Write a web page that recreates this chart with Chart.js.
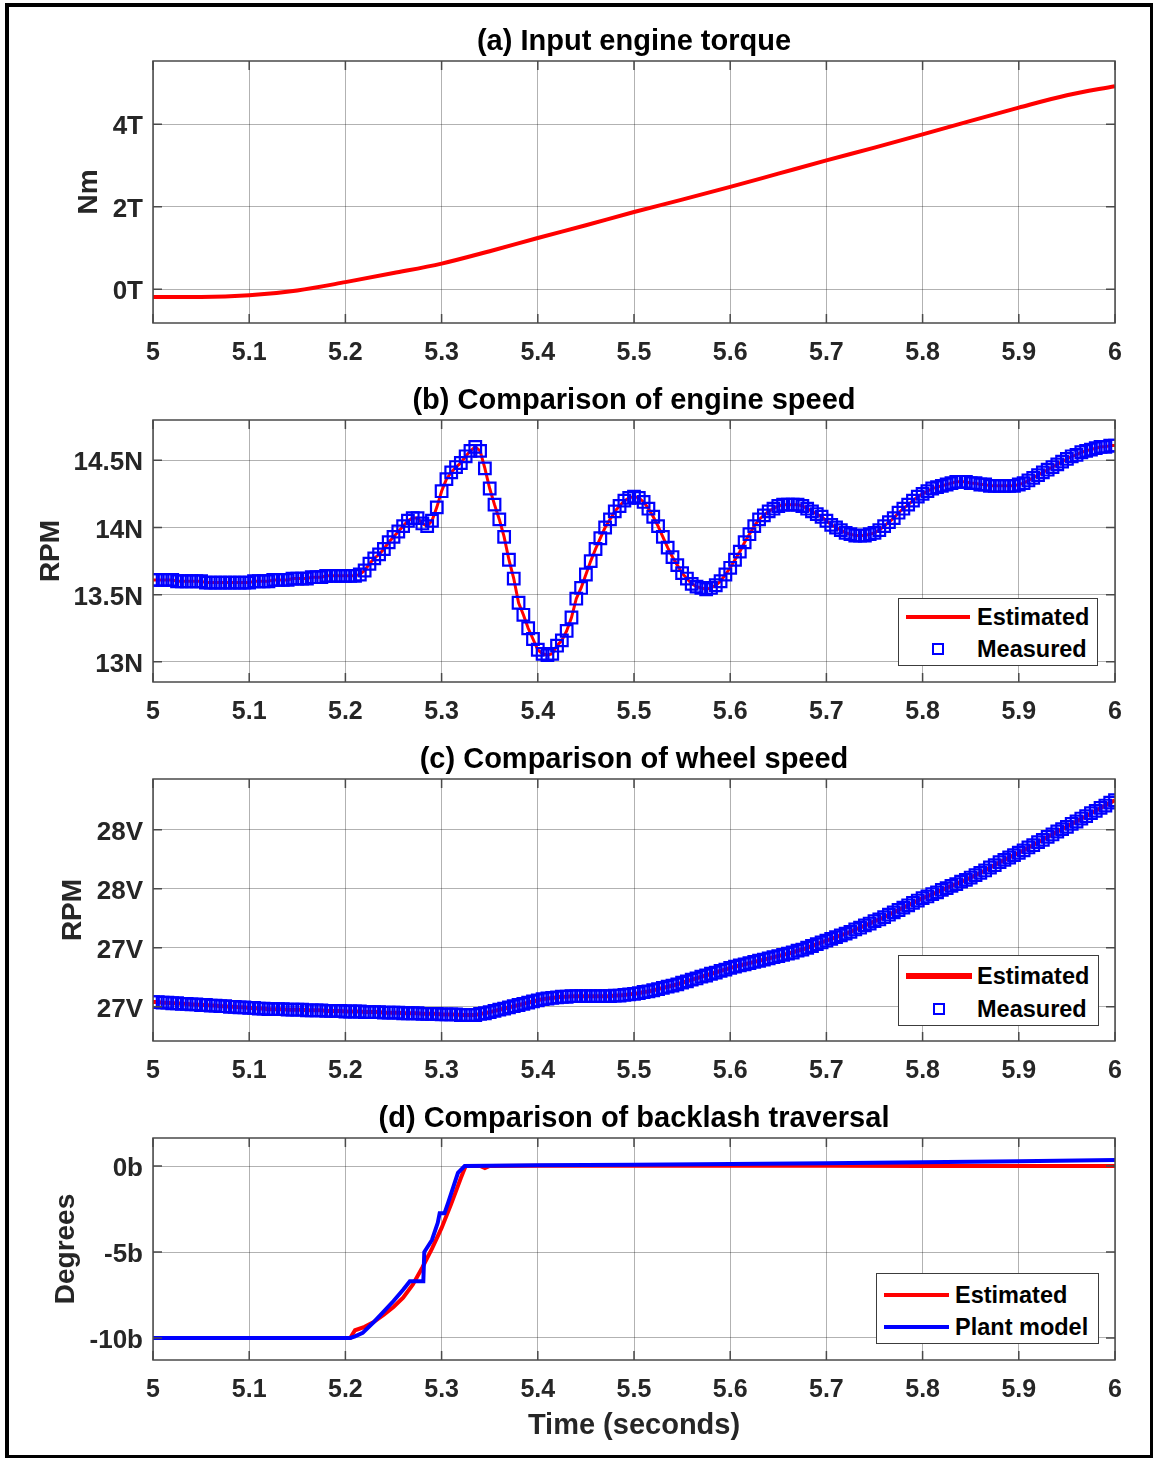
<!DOCTYPE html>
<html>
<head>
<meta charset="utf-8">
<script src="https://cdn.jsdelivr.net/npm/chart.js@4.4.0/dist/chart.umd.min.js"></script>
<style>
body { margin: 0; background: #fff; }
#fig { position: relative; width: 1154px; height: 1460px; overflow: hidden; }
#frame { position: absolute; left: 5px; top: 3px; width: 1141px; height: 1448px;
         border-style: solid; border-color: #000; border-width: 4px 3px 3px 4px; }
canvas { position: absolute; left: 0; }
.legend { position: absolute; background: #fff; border: 1px solid #3c3c3c; box-sizing: border-box;
          font: bold 23.5px "Liberation Sans", Arial, sans-serif; color: #000; }
.legend .txt { position: absolute; white-space: nowrap; line-height: 28px; height: 28px; }
.legend .mark { position: absolute; box-sizing: border-box; }
</style>
</head>
<body>
<div id="fig">
  <div id="frame"></div>
  <canvas id="chartA" width="1154" height="358" style="top:10px"></canvas>
  <canvas id="chartB" width="1154" height="358" style="top:369px"></canvas>
  <canvas id="chartC" width="1154" height="358" style="top:728px"></canvas>
  <canvas id="chartD" width="1154" height="358" style="top:1087px"></canvas>
</div>
<script>
const FONT = '"Liberation Sans", Arial, sans-serif';
const RED = '#ff0000';
const BLUE = '#0000ff';

// shared x axis
const xTicks = [5, 5.1, 5.2, 5.3, 5.4, 5.5, 5.6, 5.7, 5.8, 5.9, 6];
const xTickLabels = ['5', '5.1', '5.2', '5.3', '5.4', '5.5', '5.6', '5.7', '5.8', '5.9', '6'];

// (a) input engine torque
const torqueTime = [5, 5.05, 5.1, 5.15, 5.2, 5.25, 5.3, 5.35, 5.4, 5.45, 5.5,
                    5.55, 5.6, 5.65, 5.7, 5.75, 5.8, 5.85, 5.9, 5.95, 6];
const torque = [-0.19, -0.19, -0.15, -0.03, 0.17, 0.39, 0.62, 0.92, 1.24, 1.55, 1.87,
                2.17, 2.48, 2.8, 3.12, 3.43, 3.75, 4.08, 4.4, 4.7, 4.92];
const torqueTicks = [0, 2, 4];
const torqueTickLabels = ['0T', '2T', '4T'];

// sample times for (b) and (c)
const sampleTime = [
  5.000, 5.005, 5.010, 5.015, 5.020, 5.025, 5.030, 5.035, 5.040, 5.045,
  5.050, 5.055, 5.060, 5.065, 5.070, 5.075, 5.080, 5.085, 5.090, 5.095,
  5.100, 5.105, 5.110, 5.115, 5.120, 5.125, 5.130, 5.135, 5.140, 5.145,
  5.150, 5.155, 5.160, 5.165, 5.170, 5.175, 5.180, 5.185, 5.190, 5.195,
  5.200, 5.205, 5.210, 5.215, 5.220, 5.225, 5.230, 5.235, 5.240, 5.245,
  5.250, 5.255, 5.260, 5.265, 5.270, 5.275, 5.280, 5.285, 5.290, 5.295,
  5.300, 5.305, 5.310, 5.315, 5.320, 5.325, 5.330, 5.335, 5.340, 5.345,
  5.350, 5.355, 5.360, 5.365, 5.370, 5.375, 5.380, 5.385, 5.390, 5.395,
  5.400, 5.405, 5.410, 5.415, 5.420, 5.425, 5.430, 5.435, 5.440, 5.445,
  5.450, 5.455, 5.460, 5.465, 5.470, 5.475, 5.480, 5.485, 5.490, 5.495,
  5.500, 5.505, 5.510, 5.515, 5.520, 5.525, 5.530, 5.535, 5.540, 5.545,
  5.550, 5.555, 5.560, 5.565, 5.570, 5.575, 5.580, 5.585, 5.590, 5.595,
  5.600, 5.605, 5.610, 5.615, 5.620, 5.625, 5.630, 5.635, 5.640, 5.645,
  5.650, 5.655, 5.660, 5.665, 5.670, 5.675, 5.680, 5.685, 5.690, 5.695,
  5.700, 5.705, 5.710, 5.715, 5.720, 5.725, 5.730, 5.735, 5.740, 5.745,
  5.750, 5.755, 5.760, 5.765, 5.770, 5.775, 5.780, 5.785, 5.790, 5.795,
  5.800, 5.805, 5.810, 5.815, 5.820, 5.825, 5.830, 5.835, 5.840, 5.845,
  5.850, 5.855, 5.860, 5.865, 5.870, 5.875, 5.880, 5.885, 5.890, 5.895,
  5.900, 5.905, 5.910, 5.915, 5.920, 5.925, 5.930, 5.935, 5.940, 5.945,
  5.950, 5.955, 5.960, 5.965, 5.970, 5.975, 5.980, 5.985, 5.990, 5.995,
  6.000];

// (b) engine speed
const engineSpeed = [
  13.61, 13.61, 13.61, 13.61, 13.61, 13.60, 13.60, 13.60, 13.60, 13.60,
  13.60, 13.59, 13.59, 13.59, 13.59, 13.59, 13.59, 13.59, 13.59, 13.59,
  13.59, 13.60, 13.60, 13.60, 13.60, 13.61, 13.61, 13.61, 13.61, 13.62,
  13.62, 13.62, 13.62, 13.63, 13.63, 13.63, 13.64, 13.64, 13.64, 13.64,
  13.64, 13.64, 13.64, 13.65, 13.68, 13.73, 13.77, 13.80, 13.84, 13.89,
  13.93, 13.97, 14.01, 14.05, 14.07, 14.07, 14.03, 14.01, 14.05, 14.15,
  14.27, 14.36, 14.41, 14.45, 14.48, 14.53, 14.57, 14.60, 14.57, 14.44,
  14.29, 14.17, 14.06, 13.93, 13.76, 13.62, 13.44, 13.35, 13.25, 13.17,
  13.09, 13.06, 13.05, 13.06, 13.12, 13.16, 13.23, 13.33, 13.47, 13.55,
  13.65, 13.75, 13.84, 13.92, 14.00, 14.06, 14.12, 14.16, 14.20, 14.22,
  14.23, 14.22, 14.19, 14.14, 14.08, 14.01, 13.93, 13.85, 13.78, 13.72,
  13.66, 13.62, 13.58, 13.56, 13.55, 13.54, 13.55, 13.57, 13.60, 13.65,
  13.70, 13.76, 13.82, 13.89, 13.95, 14.01, 14.06, 14.09, 14.12, 14.14,
  14.16, 14.17, 14.17, 14.17, 14.17, 14.16, 14.14, 14.12, 14.10, 14.08,
  14.05, 14.02, 14.00, 13.98, 13.96, 13.95, 13.94, 13.94, 13.94, 13.95,
  13.96, 13.98, 14.01, 14.04, 14.07, 14.11, 14.14, 14.17, 14.20, 14.23,
  14.25, 14.27, 14.29, 14.30, 14.31, 14.32, 14.33, 14.34, 14.34, 14.34,
  14.33, 14.33, 14.32, 14.32, 14.31, 14.31, 14.31, 14.31, 14.31, 14.31,
  14.32, 14.33, 14.35, 14.37, 14.39, 14.41, 14.43, 14.45, 14.47, 14.49,
  14.51, 14.53, 14.54, 14.56, 14.57, 14.58, 14.59, 14.60, 14.60, 14.61,
  14.61];
const engineTicks = [13, 13.5, 14, 14.5];
const engineTickLabels = ['13N', '13.5N', '14N', '14.5N'];

// (c) wheel speed
const wheelSpeed = [
  0.08, 0.08, 0.07, 0.07, 0.06, 0.06, 0.05, 0.05, 0.04, 0.04,
  0.03, 0.03, 0.02, 0.02, 0.01, 0.01, 0.00, 0.00, -0.01, -0.01,
  -0.02, -0.02, -0.03, -0.03, -0.04, -0.04, -0.04, -0.04, -0.05, -0.05,
  -0.05, -0.05, -0.06, -0.06, -0.06, -0.06, -0.07, -0.07, -0.07, -0.07,
  -0.08, -0.08, -0.08, -0.08, -0.09, -0.09, -0.09, -0.09, -0.10, -0.10,
  -0.10, -0.10, -0.11, -0.11, -0.11, -0.11, -0.12, -0.12, -0.12, -0.12,
  -0.13, -0.13, -0.13, -0.13, -0.14, -0.14, -0.14, -0.14, -0.12, -0.11,
  -0.09, -0.07, -0.05, -0.03, -0.01, 0.01, 0.03, 0.05, 0.07, 0.09,
  0.11, 0.13, 0.14, 0.15, 0.16, 0.17, 0.17, 0.18, 0.18, 0.18,
  0.18, 0.18, 0.18, 0.18, 0.18, 0.18, 0.19, 0.19, 0.20, 0.21,
  0.22, 0.23, 0.25, 0.26, 0.28, 0.30, 0.32, 0.34, 0.36, 0.38,
  0.41, 0.43, 0.46, 0.48, 0.51, 0.53, 0.56, 0.58, 0.61, 0.63,
  0.66, 0.68, 0.70, 0.72, 0.74, 0.76, 0.78, 0.80, 0.82, 0.84,
  0.86, 0.88, 0.90, 0.92, 0.95, 0.97, 1.00, 1.03, 1.06, 1.09,
  1.12, 1.15, 1.18, 1.21, 1.24, 1.27, 1.31, 1.34, 1.38, 1.41,
  1.45, 1.48, 1.52, 1.56, 1.60, 1.64, 1.68, 1.72, 1.76, 1.80,
  1.84, 1.87, 1.91, 1.94, 1.98, 2.01, 2.05, 2.08, 2.12, 2.15,
  2.19, 2.23, 2.27, 2.31, 2.36, 2.40, 2.45, 2.49, 2.53, 2.57,
  2.61, 2.65, 2.70, 2.74, 2.79, 2.83, 2.88, 2.92, 2.97, 3.01,
  3.05, 3.10, 3.14, 3.19, 3.23, 3.28, 3.32, 3.37, 3.41, 3.46,
  3.50];
const wheelTicks = [0, 1, 2, 3];
const wheelTickLabels = ['27V', '27V', '28V', '28V'];

// (d) backlash traversal
const estTime = [5, 5.1, 5.2, 5.205, 5.21, 5.22, 5.23, 5.24, 5.25, 5.26, 5.27, 5.28,
                 5.29, 5.3, 5.31, 5.32, 5.325, 5.34, 5.345, 5.35, 5.4, 5.5, 5.6, 5.7, 5.8, 5.9, 6];
const estBacklash = [-10, -10, -10, -10, -9.55, -9.35, -9.05, -8.65, -8.2, -7.65, -6.9, -5.9,
                     -4.8, -3.6, -2.2, -0.7, 0, 0, -0.12, 0, 0.02, 0.02, 0.01, 0.01, 0, 0, 0];
const plantTime = [5, 5.1, 5.2, 5.205, 5.21, 5.218, 5.229, 5.24, 5.25, 5.26, 5.267, 5.281, 5.282,
                   5.29, 5.296, 5.298, 5.303, 5.307, 5.317, 5.324, 5.4, 5.5, 5.6, 5.7, 5.8, 5.9, 6];
const plantBacklash = [-10, -10, -10, -10, -9.9, -9.7, -9.1, -8.45, -7.85, -7.2, -6.7, -6.7, -5.0,
                       -4.3, -3.3, -2.75, -2.75, -2.1, -0.4, 0, 0.05, 0.08, 0.12, 0.16, 0.22, 0.28, 0.35];
const backlashTicks = [-10, -5, 0];
const backlashTickLabels = ['-10b', '-5b', '0b'];

function pairs(xs, ys) {
  return ys.map((y, i) => ({ x: xs[i], y: y }));
}

// plot box and inward tick marks
const boxPlugin = {
  id: 'box',
  afterDatasetsDraw(chart) {
    const { ctx, chartArea: a, scales } = chart;
    ctx.save();
    ctx.strokeStyle = '#4a4a4a';
    ctx.lineWidth = 1.5;
    ctx.beginPath();
    scales.x.ticks.forEach(t => {
      const px = scales.x.getPixelForValue(t.value);
      ctx.moveTo(px, a.bottom); ctx.lineTo(px, a.bottom - 9);
      ctx.moveTo(px, a.top); ctx.lineTo(px, a.top + 9);
    });
    scales.y.ticks.forEach(t => {
      const py = scales.y.getPixelForValue(t.value);
      ctx.moveTo(a.left, py); ctx.lineTo(a.left + 9, py);
      ctx.moveTo(a.right, py); ctx.lineTo(a.right - 9, py);
    });
    ctx.stroke();
    ctx.strokeRect(a.left, a.top, a.right - a.left, a.bottom - a.top);
    ctx.restore();
  }
};

function makeOptions(p) {
  return {
    responsive: false,
    animation: false,
    events: [],
    layout: { padding: { left: p.padLeft, right: 39, top: 0, bottom: 0 } },
    plugins: {
      legend: { display: false },
      tooltip: { enabled: false },
      title: {
        display: true, text: p.title, color: '#000', fullSize: false,
        font: { family: FONT, size: 29, weight: 'bold', lineHeight: 1 },
        padding: { top: 17.5, bottom: 4.5 }
      }
    },
    scales: {
      x: {
        type: 'linear', min: 5, max: 6,
        afterBuildTicks: s => { s.ticks = xTicks.map(v => ({ value: v })); },
        afterFit: s => { s.height = p.xHeight; },
        grid: { color: 'rgba(0,0,0,0.3)', lineWidth: 1, drawTicks: false },
        border: { display: false },
        ticks: {
          padding: 15, maxRotation: 0, autoSkip: false, color: '#262626',
          font: { family: FONT, size: 25, weight: 'bold' },
          callback: (v, i) => xTickLabels[i]
        },
        title: p.xTitle ? {
          display: true, text: p.xTitle, color: '#262626',
          font: { family: FONT, size: 29, weight: 'bold', lineHeight: 1 },
          padding: { top: 0, bottom: 5 }
        } : { display: false }
      },
      y: {
        type: 'linear', min: p.yMin, max: p.yMax,
        afterBuildTicks: s => { s.ticks = p.yTicks.map(v => ({ value: v })); },
        afterFit: s => { s.width = 153 - p.padLeft; },
        grid: { color: 'rgba(0,0,0,0.3)', lineWidth: 1, drawTicks: false },
        border: { display: false },
        ticks: {
          padding: 10, labelOffset: 3, color: '#262626',
          font: { family: FONT, size: 26, weight: 'bold' },
          callback: (v, i) => p.yLabels[i]
        },
        title: {
          display: true, text: p.yTitle, color: '#262626',
          font: { family: FONT, size: 28, weight: 'bold', lineHeight: 1 },
          padding: { top: 0, bottom: 0 }
        }
      }
    }
  };
}

// (a)
new Chart(document.getElementById('chartA'), {
  type: 'line',
  data: { datasets: [{
    label: 'Torque', data: pairs(torqueTime, torque),
    borderColor: RED, borderWidth: 4, pointRadius: 0, cubicInterpolationMode: 'monotone'
  }] },
  options: makeOptions({ title: '(a) Input engine torque', padLeft: 75, xHeight: 45,
    yMin: -0.82, yMax: 5.53, yTicks: torqueTicks, yLabels: torqueTickLabels, yTitle: 'Nm' }),
  plugins: [boxPlugin]
});

// (b)
new Chart(document.getElementById('chartB'), {
  type: 'line',
  data: { datasets: [
    { label: 'Estimated', data: pairs(sampleTime, engineSpeed), order: 1,
      borderColor: RED, borderWidth: 3, pointRadius: 0 },
    { label: 'Measured', data: pairs(sampleTime, engineSpeed), order: 0, showLine: false,
      pointStyle: 'rect', pointRadius: 8.2, pointBorderWidth: 2.2,
      pointBorderColor: BLUE, pointBackgroundColor: 'rgba(0,0,0,0)', borderColor: BLUE }
  ] },
  options: makeOptions({ title: '(b) Comparison of engine speed', padLeft: 37, xHeight: 45,
    yMin: 12.85, yMax: 14.8, yTicks: engineTicks, yLabels: engineTickLabels, yTitle: 'RPM' }),
  plugins: [boxPlugin]
});

// (c)
new Chart(document.getElementById('chartC'), {
  type: 'line',
  data: { datasets: [
    { label: 'Estimated', data: pairs(sampleTime, wheelSpeed), order: 1,
      borderColor: RED, borderWidth: 4, pointRadius: 0 },
    { label: 'Measured', data: pairs(sampleTime, wheelSpeed), order: 0, showLine: false,
      pointStyle: 'rect', pointRadius: 8.2, pointBorderWidth: 2.2,
      pointBorderColor: BLUE, pointBackgroundColor: 'rgba(0,0,0,0)', borderColor: BLUE }
  ] },
  options: makeOptions({ title: '(c) Comparison of wheel speed', padLeft: 59, xHeight: 45,
    yMin: -0.58, yMax: 3.86, yTicks: wheelTicks, yLabels: wheelTickLabels, yTitle: 'RPM' }),
  plugins: [boxPlugin]
});

// (d)
new Chart(document.getElementById('chartD'), {
  type: 'line',
  data: { datasets: [
    { label: 'Estimated', data: pairs(estTime, estBacklash), order: 1,
      borderColor: RED, borderWidth: 4, pointRadius: 0 },
    { label: 'Plant model', data: pairs(plantTime, plantBacklash), order: 0,
      borderColor: BLUE, borderWidth: 4, pointRadius: 0 }
  ] },
  options: makeOptions({ title: '(d) Comparison of backlash traversal', padLeft: 52, xHeight: 85,
    xTitle: 'Time (seconds)',
    yMin: -11.28, yMax: 1.63, yTicks: backlashTicks, yLabels: backlashTickLabels, yTitle: 'Degrees' }),
  plugins: [boxPlugin]
});

// legends, drawn as html boxes inside the plots
function addLegend(box, items) {
  const fig = document.getElementById('fig');
  const el = document.createElement('div');
  el.className = 'legend';
  el.style.left = box.left + 'px';
  el.style.top = box.top + 'px';
  el.style.width = box.width + 'px';
  el.style.height = box.height + 'px';
  items.forEach(it => {
    const m = document.createElement('div');
    m.className = 'mark';
    if (it.kind === 'line') {
      m.style.left = box.sampleX + 'px';
      m.style.width = box.sampleW + 'px';
      m.style.top = (it.y - it.lw / 2) + 'px';
      m.style.height = it.lw + 'px';
      m.style.background = it.color;
    } else {
      m.style.left = (box.sampleX + box.sampleW / 2 - 6) + 'px';
      m.style.top = (it.y - 6) + 'px';
      m.style.width = '12px';
      m.style.height = '12px';
      m.style.border = '2px solid ' + it.color;
    }
    el.appendChild(m);
    const t = document.createElement('div');
    t.className = 'txt';
    t.style.left = box.textX + 'px';
    t.style.top = (it.y - 14) + 'px';
    t.textContent = it.label;
    el.appendChild(t);
  });
  fig.appendChild(el);
}

addLegend({ left: 898, top: 598, width: 200, height: 68, sampleX: 7, sampleW: 64, textX: 78 }, [
  { label: 'Estimated', kind: 'line', color: RED, lw: 4, y: 18 },
  { label: 'Measured', kind: 'square', color: BLUE, y: 50 }
]);
addLegend({ left: 898, top: 955, width: 201, height: 71, sampleX: 7, sampleW: 66, textX: 78 }, [
  { label: 'Estimated', kind: 'line', color: RED, lw: 6, y: 20 },
  { label: 'Measured', kind: 'square', color: BLUE, y: 53 }
]);
addLegend({ left: 876, top: 1273, width: 223, height: 71, sampleX: 7, sampleW: 65, textX: 78 }, [
  { label: 'Estimated', kind: 'line', color: RED, lw: 4, y: 21 },
  { label: 'Plant model', kind: 'line', color: BLUE, lw: 4, y: 53 }
]);
</script>
</body>
</html>
